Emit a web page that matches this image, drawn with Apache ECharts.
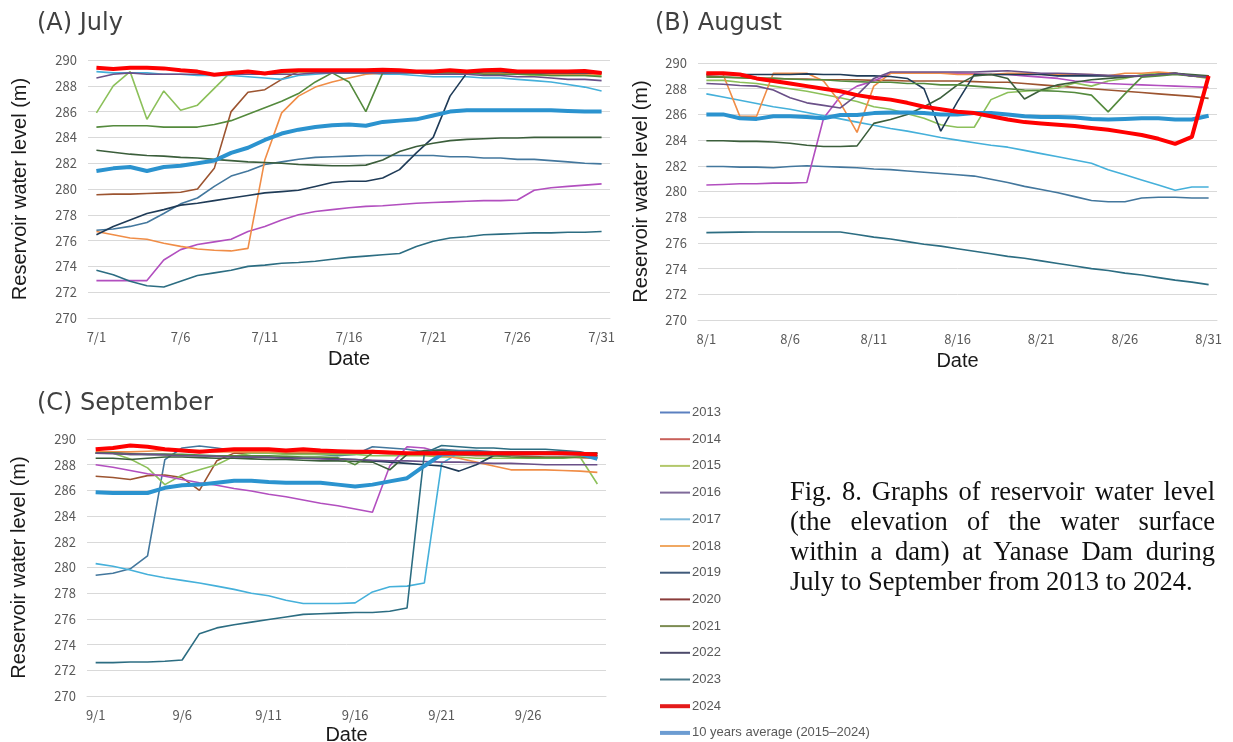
<!DOCTYPE html>
<html>
<head>
<meta charset="utf-8">
<script src="https://cdn.jsdelivr.net/npm/echarts@6/dist/echarts.min.js"></script>
<style>
html,body{margin:0;padding:0;background:#fff;}
#chart{position:absolute;left:0;top:0;width:1233px;height:742px;}
#caption{position:absolute;left:790px;top:476px;width:425px;font-family:'Liberation Serif','Times New Roman',serif;font-size:26.5px;line-height:30px;text-align:justify;color:#111;}
</style>
</head>
<body>
<div id="chart"></div>
<div id="caption">Fig. 8. Graphs of reservoir water level (the elevation of the water surface within a dam) at Yanase Dam during July to September from 2013 to 2024.</div>
<script>
// ---------- categories ----------
const julDays = Array.from({length:31},(_, i)=>'7/'+(i+1));
const augDays = Array.from({length:31},(_, i)=>'8/'+(i+1));
const sepDays = Array.from({length:30},(_, i)=>'9/'+(i+1));
const yTicks = {min:270, max:290, step:2};

const yearNames = ['2013','2014','2015','2016','2017','2018','2019','2020','2021','2022','2023','2024'];
const avgName = '10 years average (2015\u20132024)';

// ---------- July ----------
const jul2013 = [276.8,276.9,277.1,277.4,278.1,278.85,279.3,280.2,281.0,281.4,281.9,282.1,282.3,282.45,282.5,282.55,282.6,282.6,282.6,282.6,282.6,282.5,282.5,282.4,282.4,282.3,282.3,282.2,282.1,282.0,281.95];
const jul2014 = [279.55,279.6,279.6,279.65,279.7,279.75,280.0,281.6,286.0,287.5,287.7,288.5,289.1,289.1,289.0,289.0,289.0,289.1,289.1,289.0,289.0,289.0,289.0,289.0,288.9,288.9,288.9,288.9,288.9,288.9,289.0];
const jul2015 = [285.9,288.0,289.1,285.4,287.6,286.1,286.5,287.8,289.1,289.1,289.0,289.0,289.1,289.1,289.0,289.0,289.0,289.0,289.0,289.0,288.9,288.9,289.0,289.0,288.9,288.9,288.8,288.8,288.8,288.8,288.8];
const jul2016 = [272.9,272.9,272.9,272.9,274.5,275.3,275.7,275.9,276.1,276.7,277.1,277.6,278.0,278.25,278.4,278.55,278.65,278.7,278.8,278.9,278.95,279.0,279.05,279.1,279.1,279.15,279.9,280.1,280.2,280.3,280.4];
const jul2017 = [289.1,289.0,289.0,289.0,288.9,288.9,288.8,288.8,288.8,288.7,288.6,288.5,288.8,288.9,289.0,289.0,289.0,288.9,288.9,288.8,288.7,288.7,288.7,288.6,288.6,288.5,288.4,288.3,288.1,287.9,287.6];
const jul2018 = [276.7,276.45,276.2,276.1,275.8,275.55,275.35,275.25,275.2,275.4,282.25,285.9,287.2,287.9,288.3,288.6,288.9,289.0,289.1,289.1,289.0,289.0,289.0,289.0,289.0,288.9,288.9,288.9,288.9,288.9,288.9];
const jul2019 = [276.45,277.1,277.6,278.1,278.4,278.75,278.9,279.1,279.3,279.5,279.7,279.8,279.9,280.2,280.5,280.6,280.6,280.85,281.5,282.8,284.0,287.2,289.0,289.1,289.1,289.0,289.0,289.0,289.0,289.0,289.0];
const jul2020 = [283.0,282.85,282.7,282.6,282.55,282.45,282.4,282.3,282.2,282.1,282.05,282.0,281.9,281.85,281.8,281.8,281.85,282.25,282.9,283.3,283.55,283.75,283.85,283.9,283.95,283.95,284.0,284.0,284.0,284.0,284.0];
const jul2021 = [284.8,284.9,284.9,284.9,284.8,284.8,284.8,285.0,285.3,285.8,286.3,286.8,287.4,288.3,289.0,288.3,286.0,289.0,289.1,289.1,289.0,289.0,289.0,288.9,288.9,288.9,288.9,288.8,288.8,288.8,288.7];
const jul2022 = [288.6,288.9,289.0,288.9,288.9,288.9,288.9,288.9,288.9,288.9,288.9,288.9,288.9,289.0,289.0,289.0,289.0,289.0,289.0,289.0,288.9,288.9,288.9,288.8,288.8,288.7,288.7,288.6,288.5,288.5,288.4];
const jul2023 = [273.7,273.35,272.85,272.5,272.4,272.85,273.3,273.5,273.7,274.0,274.1,274.25,274.3,274.4,274.55,274.7,274.8,274.9,275.0,275.55,275.95,276.2,276.3,276.45,276.5,276.55,276.6,276.6,276.65,276.65,276.7];
const jul2024 = [289.4,289.3,289.4,289.4,289.35,289.2,289.1,288.85,289.0,289.1,288.95,289.15,289.2,289.2,289.2,289.2,289.2,289.25,289.2,289.1,289.1,289.2,289.1,289.2,289.25,289.1,289.1,289.1,289.1,289.15,289.0];
const julAvg  = [281.4,281.6,281.7,281.4,281.7,281.8,282.0,282.2,282.8,283.2,283.8,284.3,284.6,284.8,284.95,285.0,284.9,285.2,285.3,285.4,285.7,286.0,286.1,286.1,286.1,286.1,286.1,286.1,286.05,286.0,286.0];

// ---------- August ----------
const aug2013 = [281.95,281.95,281.9,281.9,281.85,281.95,282.0,281.95,281.9,281.85,281.75,281.7,281.6,281.5,281.4,281.3,281.2,280.95,280.7,280.4,280.15,279.9,279.6,279.3,279.2,279.2,279.5,279.55,279.55,279.5,279.5];
const aug2014 = [289.0,288.9,288.85,288.8,288.8,288.75,288.75,288.7,288.7,288.7,288.65,288.65,288.6,288.6,288.6,288.6,288.55,288.5,288.5,288.4,288.3,288.2,288.1,288.0,287.9,287.8,287.7,287.6,287.5,287.4,287.25];
const aug2015 = [288.65,288.65,288.5,288.4,288.2,288.0,287.8,287.55,287.3,287.0,286.6,286.4,286.05,285.7,285.2,285.0,285.0,287.15,287.7,287.8,287.9,288.05,288.45,288.2,288.6,288.8,289.1,289.2,289.15,289.0,288.8];
const aug2016 = [280.5,280.55,280.6,280.6,280.65,280.65,280.7,285.7,287.4,288.2,288.6,289.2,289.2,289.2,289.2,289.2,289.15,289.1,289.1,289.0,288.9,288.8,288.6,288.5,288.4,288.35,288.3,288.25,288.2,288.15,288.1];
const aug2017 = [287.6,287.35,287.1,286.85,286.6,286.4,286.15,285.9,285.65,285.4,285.15,284.9,284.7,284.45,284.2,284.0,283.8,283.6,283.45,283.2,282.95,282.7,282.45,282.2,281.7,281.3,280.9,280.5,280.1,280.35,280.35];
const aug2018 = [289.2,289.1,285.85,285.85,289.2,289.2,289.2,288.6,286.9,284.6,288.2,289.2,289.2,289.2,289.2,289.1,289.1,289.1,289.2,289.2,289.1,289.1,289.1,289.1,289.0,289.2,289.2,289.3,289.2,289.0,288.9];
const aug2019 = [289.1,289.1,289.1,289.1,289.1,289.1,289.15,289.1,289.1,289.0,289.0,288.95,288.8,288.0,284.7,287.0,289.1,289.1,289.1,289.1,289.1,289.0,289.0,289.0,289.0,289.0,289.0,289.1,289.2,289.0,289.0];
const aug2020 = [283.95,283.95,283.9,283.9,283.85,283.75,283.6,283.5,283.5,283.55,285.3,285.6,286.0,286.6,287.3,288.3,289.0,289.1,288.8,287.2,287.9,288.3,288.5,288.7,288.8,288.9,289.0,289.1,289.2,289.1,289.0];
const aug2021 = [288.9,288.9,288.85,288.8,288.8,288.75,288.7,288.7,288.6,288.55,288.5,288.5,288.4,288.4,288.3,288.3,288.2,288.1,288.0,287.9,287.85,287.8,287.7,287.5,286.2,287.6,288.9,289.0,289.1,289.0,288.9];
const aug2022 = [288.4,288.35,288.25,288.2,287.9,287.3,286.9,286.7,286.5,287.5,288.8,289.3,289.3,289.3,289.3,289.3,289.3,289.35,289.4,289.3,289.2,289.2,289.15,289.1,289.05,289.0,289.0,289.1,289.2,289.0,288.9];
const aug2023 = [276.8,276.82,276.84,276.85,276.85,276.85,276.85,276.85,276.85,276.65,276.45,276.3,276.1,275.9,275.75,275.55,275.35,275.15,274.95,274.8,274.6,274.4,274.2,274.0,273.85,273.65,273.5,273.3,273.1,272.95,272.75];
const aug2024 = [289.2,289.2,289.1,288.8,288.6,288.4,288.2,288.0,287.8,287.5,287.3,287.15,286.9,286.6,286.4,286.2,286.1,285.85,285.6,285.4,285.3,285.2,285.1,284.95,284.8,284.6,284.4,284.1,283.7,284.25,289.0];
const augAvg  = [286.0,286.0,285.7,285.65,285.85,285.85,285.8,285.7,285.95,285.95,286.1,286.15,286.15,286.1,286.0,286.0,286.1,286.1,286.0,285.85,285.8,285.8,285.75,285.65,285.6,285.65,285.7,285.7,285.6,285.6,285.9];

// ---------- September ----------
const sep2013 = [279.4,279.55,279.9,280.9,288.4,289.3,289.45,289.3,289.1,289.0,288.9,288.9,288.85,288.8,288.7,288.8,289.4,289.3,289.2,289.0,289.2,289.1,289.1,289.0,289.0,289.0,288.9,288.9,288.8,288.7];
const sep2014 = [287.1,287.0,286.85,287.15,287.2,287.0,286.0,288.3,288.9,288.9,288.9,288.9,288.9,288.9,288.9,288.9,288.9,288.85,288.85,288.8,288.8,288.75,288.7,288.7,288.7,288.65,288.6,288.6,288.55,288.5];
const sep2015 = [288.9,288.9,288.45,287.75,286.45,287.2,287.6,288.0,288.65,288.9,288.9,288.8,288.8,288.8,288.8,288.8,288.7,288.7,288.7,288.7,288.6,288.6,288.5,288.5,288.5,288.5,288.5,288.5,288.6,286.5];
const sep2016 = [288.0,287.8,287.55,287.3,287.1,286.85,286.6,286.4,286.15,285.95,285.7,285.5,285.25,285.0,284.8,284.55,284.3,287.9,289.4,289.3,288.9,288.9,288.9,288.9,288.9,288.85,288.85,288.8,288.8,288.8];
const sep2017 = [280.3,280.1,279.8,279.45,279.2,279.0,278.8,278.55,278.3,278.0,277.8,277.45,277.2,277.2,277.2,277.25,278.1,278.5,278.55,278.8,288.1,288.9,288.9,289.0,289.0,289.0,288.9,288.9,288.8,288.7];
const sep2018 = [289.0,289.0,289.0,289.05,289.1,289.1,289.1,289.0,289.0,289.0,289.0,289.0,289.0,289.0,289.0,289.0,289.1,289.0,288.9,288.8,288.7,288.5,288.2,287.9,287.6,287.6,287.6,287.55,287.5,287.4];
const sep2019 = [288.9,288.9,288.85,288.8,288.8,288.75,288.7,288.7,288.65,288.6,288.6,288.55,288.5,288.5,288.45,288.4,288.3,288.2,288.1,288.0,287.9,287.5,288.0,288.7,288.9,289.0,289.0,289.0,288.9,288.9];
const sep2020 = [288.5,288.5,288.4,288.5,288.6,288.6,288.55,288.5,288.5,288.45,288.4,288.4,288.35,288.3,288.3,288.25,288.2,287.6,288.8,289.1,289.1,289.0,289.0,289.0,289.0,289.0,289.0,289.0,288.9,288.9];
const sep2021 = [288.9,288.9,288.8,288.8,288.8,288.8,288.75,288.7,288.7,288.7,288.7,288.65,288.6,288.6,288.55,288.0,288.9,288.9,288.9,288.8,288.8,288.8,288.8,288.7,288.6,288.55,288.55,288.55,288.6,288.6];
const sep2022 = [288.9,288.85,288.8,288.8,288.75,288.7,288.7,288.65,288.6,288.6,288.55,288.5,288.5,288.45,288.4,288.4,288.35,288.3,288.3,288.25,288.2,288.2,288.15,288.1,288.1,288.05,288.0,288.0,288.0,288.0];
const sep2023 = [272.6,272.6,272.65,272.65,272.7,272.8,274.85,275.3,275.55,275.75,275.95,276.15,276.35,276.4,276.45,276.5,276.5,276.6,276.85,288.9,289.5,289.4,289.3,289.3,289.2,289.2,289.2,289.1,289.0,288.7];
const sep2024 = [289.2,289.3,289.5,289.4,289.2,289.1,289.0,289.1,289.2,289.2,289.2,289.1,289.2,289.1,289.05,289.0,289.0,288.95,288.9,288.9,288.9,288.9,288.9,288.9,288.9,288.9,288.9,288.9,288.85,288.8];
const sepAvg  = [285.85,285.8,285.8,285.8,286.2,286.4,286.45,286.6,286.75,286.75,286.65,286.6,286.6,286.6,286.45,286.3,286.45,286.7,286.95,287.9,288.8,288.9,288.9,288.9,288.9,288.9,288.9,288.9,288.85,288.45];

// ---------- styling ----------
const lineColors = {
  '2013':'#43779d','2014':'#9c5430','2015':'#8cc05a','2016':'#b24fbf','2017':'#45b0da','2018':'#f08d47',
  '2019':'#1f3b57','2020':'#3b5e3b','2021':'#548a3d','2022':'#6a5088','2023':'#2c6d82','2024':'#ff0000'
};
lineColors[avgName] = '#2b93cf';
const legendColors = {
  '2013':'#5b80c0','2014':'#c8605a','2015':'#b3c86b','2016':'#7f6a9a','2017':'#7fb9d9','2018':'#f0a862',
  '2019':'#405a7a','2020':'#8a3c3a','2021':'#7c8c52','2022':'#4c4a6a','2023':'#4c7a8a','2024':'#e41a1a'
};
legendColors[avgName] = '#6c9cd2';

const months = [
  {grid:0, cats:julDays, data:{'2013':jul2013,'2014':jul2014,'2015':jul2015,'2016':jul2016,'2017':jul2017,'2018':jul2018,'2019':jul2019,'2020':jul2020,'2021':jul2021,'2022':jul2022,'2023':jul2023,'2024':jul2024}, avg:julAvg},
  {grid:1, cats:augDays, data:{'2013':aug2013,'2014':aug2014,'2015':aug2015,'2016':aug2016,'2017':aug2017,'2018':aug2018,'2019':aug2019,'2020':aug2020,'2021':aug2021,'2022':aug2022,'2023':aug2023,'2024':aug2024}, avg:augAvg},
  {grid:2, cats:sepDays, data:{'2013':sep2013,'2014':sep2014,'2015':sep2015,'2016':sep2016,'2017':sep2017,'2018':sep2018,'2019':sep2019,'2020':sep2020,'2021':sep2021,'2022':sep2022,'2023':sep2023,'2024':sep2024}, avg:sepAvg}
];

const grids = [
  {left:88, top:60, width:522, height:258, outerBoundsMode:'none', containLabel:false},
  {left:698, top:63, width:519, height:257, outerBoundsMode:'none', containLabel:false},
  {left:87, top:439, width:519, height:257, outerBoundsMode:'none', containLabel:false}
];
const yNameGaps = [58, 47, 58];
const xNameGaps = [31, 31, 29];

const tickFont = "'Noto Sans CJK JP', 'Noto Sans', sans-serif";
const nameFont = "'Liberation Sans', Arial, sans-serif";
const titleFont = "'DejaVu Sans', sans-serif";

const xAxes = months.map((m,i)=>({
  type:'category', gridIndex:i, data:m.cats, boundaryGap:true,
  axisTick:{show:false},
  axisLine:{lineStyle:{color:'#d9d9d9'}},
  axisLabel:{interval:4, color:'#595959', fontSize:13, margin:13, fontFamily:tickFont},
  name:'Date', nameLocation:'middle', nameGap:xNameGaps[i],
  nameTextStyle:{fontSize:20, color:'#1a1a1a', fontFamily:nameFont}
}));
const yAxes = months.map((m,i)=>({
  type:'value', gridIndex:i, min:yTicks.min, max:yTicks.max, interval:yTicks.step,
  axisLine:{show:false}, axisTick:{show:false},
  splitLine:{lineStyle:{color:'#d9d9d9', width:1}},
  axisLabel:{color:'#595959', fontSize:13, margin:11, fontFamily:tickFont},
  name:'Reservoir water level (m)', nameLocation:'middle', nameRotate:90, nameGap:yNameGaps[i],
  nameTextStyle:{fontSize:20, color:'#1a1a1a', fontFamily:nameFont}
}));

const series = [];
months.forEach(m=>{
  const order = ['2013','2014','2015','2016','2017','2018','2019','2020','2021','2022','2023'];
  order.forEach(y=>{
    series.push({name:y, type:'line', xAxisIndex:m.grid, yAxisIndex:m.grid, data:m.data[y],
      symbol:'none', lineStyle:{width:1.6, color:lineColors[y]}, itemStyle:{color:lineColors[y]}, z:2});
  });
  series.push({name:avgName, type:'line', xAxisIndex:m.grid, yAxisIndex:m.grid, data:m.avg,
    symbol:'none', lineStyle:{width:4, color:lineColors[avgName]}, itemStyle:{color:lineColors[avgName]}, z:3});
  series.push({name:'2024', type:'line', xAxisIndex:m.grid, yAxisIndex:m.grid, data:m.data['2024'],
    symbol:'none', lineStyle:{width:4, color:lineColors['2024']}, itemStyle:{color:lineColors['2024']}, z:4});
});

const legendData = yearNames.concat([avgName]).map(n=>({
  name:n,
  lineStyle:{color:legendColors[n], width:(n==='2024'||n===avgName)?4:2},
  itemStyle:{color:legendColors[n], opacity:0}
}));

const titleStyle = {fontSize:24, fontWeight:'normal', color:'#404040', fontFamily:titleFont};

const chart = echarts.init(document.getElementById('chart'), null, {renderer:'canvas'});
chart.setOption({
  animation:false,
  backgroundColor:'#ffffff',
  title:[
    {text:'(A) July', left:37, top:12, padding:0, textStyle:titleStyle},
    {text:'(B) August', left:655, top:12, padding:0, textStyle:titleStyle},
    {text:'(C) September', left:37, top:392, padding:0, textStyle:titleStyle}
  ],
  legend:{
    orient:'vertical', left:658, top:406, padding:0,
    itemWidth:30, itemHeight:13, itemGap:13.7,
    data:legendData, selectedMode:false,
    textStyle:{fontSize:13, color:'#595959', fontFamily:nameFont, padding:[0,0,0,-3]}
  },
  grid:grids,
  xAxis:xAxes,
  yAxis:yAxes,
  series:series
});
</script>
</body>
</html>
